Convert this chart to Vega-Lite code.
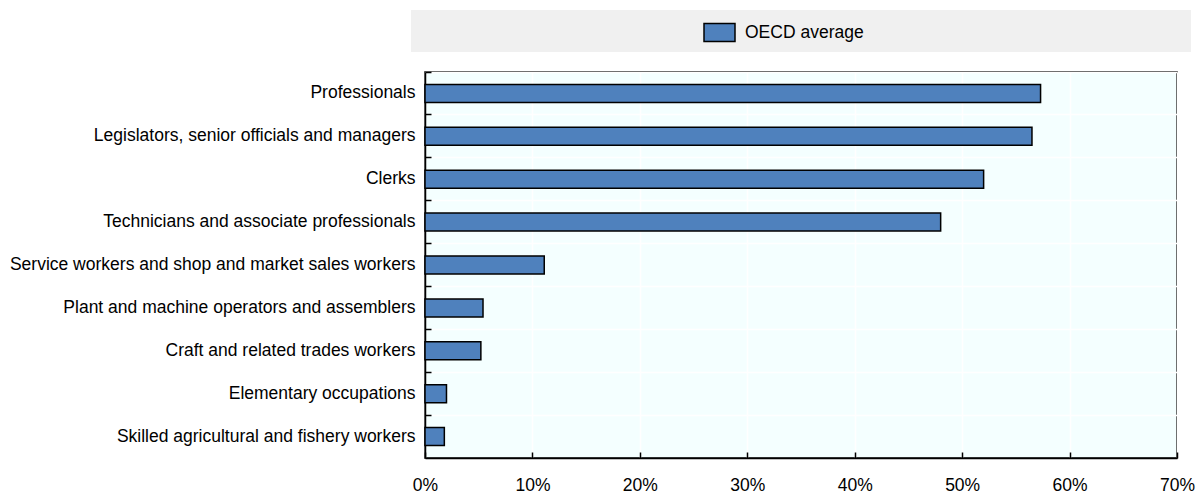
{
  "$schema": "https://vega.github.io/schema/vega-lite/v6.json",
  "padding": {"left": 8, "top": 10, "right": 5, "bottom": 0},
  "background": "white",
  "config": {
    "font": "Liberation Sans",
    "concat": {"spacing": 20},
    "view": {"stroke": null}
  },
  "bounds": "flush",
  "center": true,
  "spacing": 20,
  "resolve": {"legend": {"color": "independent"}, "scale": {"color": "independent"}},
  "vconcat": [
    {
      "width": 780,
      "height": 42,
      "view": {"fill": "#F0F0F0", "stroke": null},
      "data": {"values": [{"series": "OECD average"}]},
      "mark": {"type": "square", "opacity": 0},
      "encoding": {
        "color": {
          "field": "series",
          "type": "nominal",
          "scale": {"range": ["#4F81BD"]},
          "legend": {
            "title": null,
            "orient": "none",
            "legendX": 292,
            "legendY": 6,
            "padding": 0,
            "symbolType": "M-1,-0.58L1,-0.58L1,0.58L-1,0.58Z",
            "symbolSize": 961,
            "symbolStrokeColor": "#000000",
            "symbolStrokeWidth": 1.5,
            "symbolOpacity": 1,
            "symbolFillColor": "#4F81BD",
            "labelFont": "Liberation Sans",
            "labelFontSize": 17.5,
            "labelColor": "#000000",
            "labelOffset": 9
          }
        }
      }
    },
    {
      "width": 752,
      "height": 386,
      "view": {"fill": "#F4FFFF", "stroke": "#000000", "strokeWidth": 1.5},
      "data": {
        "values": [
          {"occupation": "Professionals", "value": 0.573},
          {"occupation": "Legislators, senior officials and managers", "value": 0.565},
          {"occupation": "Clerks", "value": 0.52},
          {"occupation": "Technicians and associate professionals", "value": 0.48},
          {"occupation": "Service workers and shop and market sales workers", "value": 0.111},
          {"occupation": "Plant and machine operators and assemblers", "value": 0.054},
          {"occupation": "Craft and related trades workers", "value": 0.052},
          {"occupation": "Elementary occupations", "value": 0.02},
          {"occupation": "Skilled agricultural and fishery workers", "value": 0.018}
        ]
      },
      "mark": {
        "type": "bar",
        "height": {"band": 0.42},
        "fill": "#4F81BD",
        "stroke": "#000000",
        "strokeWidth": 1.5
      },
      "encoding": {
        "y": {
          "field": "occupation",
          "type": "nominal",
          "sort": null,
          "scale": {"paddingInner": 0, "paddingOuter": 0},
          "axis": {
            "title": null,
            "bandPosition": 0,
            "grid": true,
            "gridColor": "#FFFFFF",
            "gridWidth": 1.5,
            "gridOpacity": 1,
            "domainColor": "#000000",
            "domainWidth": 1.5,
            "tickColor": "#000000",
            "tickWidth": 1.5,
            "tickSize": -6,
            "labelFont": "Liberation Sans",
            "labelFontSize": 17.5,
            "labelColor": "#000000",
            "labelPadding": 16,
            "labelLimit": 1000
          }
        },
        "x": {
          "field": "value",
          "type": "quantitative",
          "scale": {"domain": [0, 0.7], "nice": false},
          "axis": {
            "title": null,
            "format": ".0%",
            "values": [0, 0.1, 0.2, 0.3, 0.4, 0.5, 0.6, 0.7],
            "grid": true,
            "gridColor": "#FFFFFF",
            "gridWidth": 1.5,
            "gridOpacity": 1,
            "domainColor": "#000000",
            "domainWidth": 1.5,
            "tickColor": "#000000",
            "tickWidth": 1.5,
            "tickSize": -6,
            "labelFlush": false,
            "labelFont": "Liberation Sans",
            "labelFontSize": 17.5,
            "labelColor": "#000000",
            "labelPadding": 24
          }
        }
      }
    }
  ]
}
